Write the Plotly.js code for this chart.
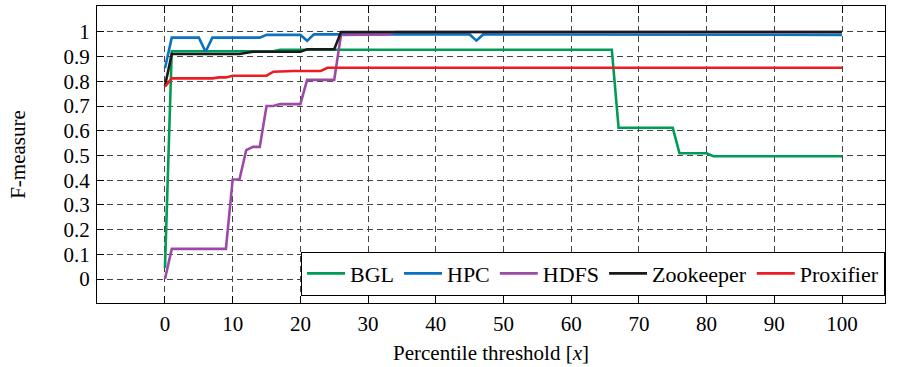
<!DOCTYPE html>
<html>
<head>
<meta charset="utf-8">
<script src="https://cdn.plot.ly/plotly-3.0.1.min.js"></script>
<style>html,body{margin:0;padding:0;background:#fff;}#chart{width:901px;height:367px;}</style>
</head>
<body>
<div id="chart"></div>
<script>
// Data
const bglX = [0, 1, 16, 17, 66, 67, 75, 76, 80, 81, 100];
const bglY = [0.045, 0.922, 0.922, 0.928, 0.928, 0.612, 0.612, 0.509, 0.509, 0.497, 0.497];

const hpcX = [0, 1, 5, 6, 7, 14, 15, 20, 21, 22, 45, 46, 47, 100];
const hpcY = [0.853, 0.977, 0.977, 0.92, 0.977, 0.977, 0.988, 0.988, 0.964, 0.99, 0.99, 0.965, 0.99, 0.988];

const hdfsX = [0, 1, 9, 10, 11, 12, 13, 14, 15, 16, 17, 20, 21, 25, 26, 33, 34, 100];
const hdfsY = [0, 0.122, 0.122, 0.403, 0.403, 0.522, 0.535, 0.535, 0.700, 0.700, 0.708, 0.708, 0.806, 0.806, 0.988, 0.99, 1.0, 1.0];

const zkX = [0, 1, 11, 13, 20, 21, 25, 26, 100];
const zkY = [0.781, 0.911, 0.911, 0.92, 0.92, 0.93, 0.93, 1.0, 1.0];

const proxX = [0, 1, 7, 8, 9, 10, 15, 16, 19, 23, 24, 100];
const proxY = [0.779, 0.812, 0.812, 0.816, 0.816, 0.823, 0.823, 0.839, 0.842, 0.842, 0.855, 0.855];

const xTicks = [0, 10, 20, 30, 40, 50, 60, 70, 80, 90, 100];
const yTicks = [0, 0.1, 0.2, 0.3, 0.4, 0.5, 0.6, 0.7, 0.8, 0.9, 1];
const yTickText = ['0', '0.1', '0.2', '0.3', '0.4', '0.5', '0.6', '0.7', '0.8', '0.9', '1'];

const font = 'Liberation Serif';
function tr(x, y, name, color) {
  return {x: x, y: y, name: name, type: 'scatter', mode: 'lines',
          line: {color: color, width: 2.6}};
}
const data = [
  tr(bglX, bglY, 'BGL', '#009b55'),
  tr(hpcX, hpcY, 'HPC', '#0a72bf'),
  tr(hdfsX, hdfsY, 'HDFS', '#9b4aa5'),
  tr(zkX, zkY, 'Zookeeper', '#1a1a1a'),
  tr(proxX, proxY, 'Proxifier', '#ec1c24')
];
const axisCommon = {
  showline: true, linecolor: '#000', linewidth: 1, mirror: 'ticks',
  ticks: 'inside', ticklen: 7, tickcolor: '#000', tickwidth: 1,
  showgrid: true, gridcolor: '#444', griddash: '6px,4px', gridwidth: 1,
  zeroline: false, tickfont: {family: font, size: 21, color: '#000'}
};
const layout = {
  width: 901, height: 367,
  margin: {l: 97, r: 16, t: 6, b: 64},
  paper_bgcolor: '#fff', plot_bgcolor: '#fff',
  font: {family: font, size: 21, color: '#000'},
  showlegend: true,
  legend: {orientation: 'h', x: 1, xanchor: 'right', y: 0.025, yanchor: 'bottom',
           bgcolor: '#fff', bordercolor: '#000', borderwidth: 1, itemwidth: 38,
           font: {family: font, size: 22, color: '#000'}},
  xaxis: Object.assign({}, axisCommon, {
    range: [-10.04, 106.35], tickvals: xTicks, ticklabelstandoff: 2,
    title: {text: 'Percentile threshold [<i>x</i>]', font: {family: font, size: 21}, standoff: 10}
  }),
  yaxis: Object.assign({}, axisCommon, {
    range: [-0.097, 1.105], tickvals: yTicks, ticktext: yTickText, ticklabelstandoff: 2,
    title: {text: 'F-measure', font: {family: font, size: 21}, standoff: 32}
  })
};
Plotly.newPlot('chart', data, layout, {displayModeBar: false, staticPlot: true});
</script>
</body>
</html>
